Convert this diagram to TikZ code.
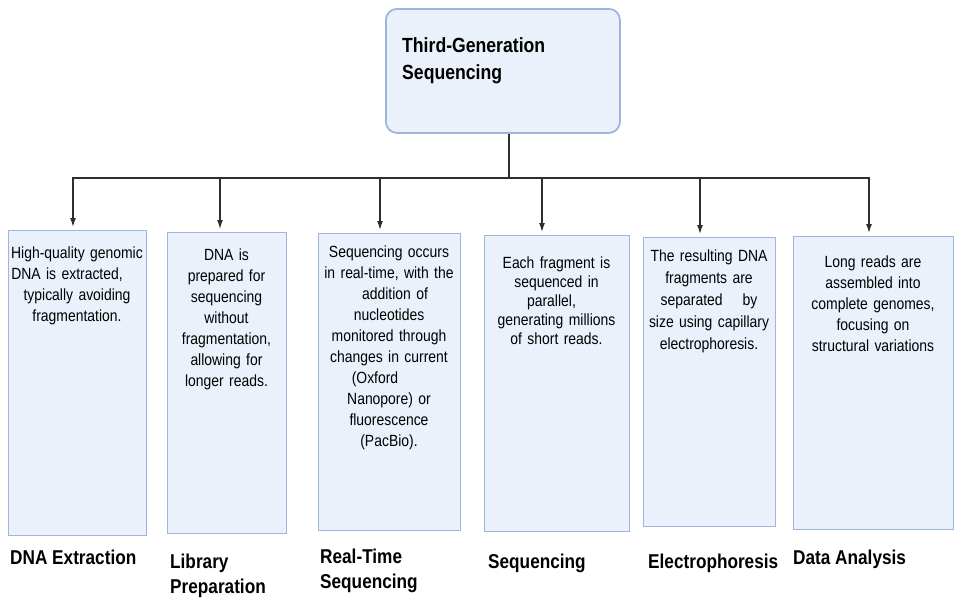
\documentclass[tikz,border=0pt]{standalone}
\usepackage{fontspec}
\setmainfont{Liberation Sans}[FakeStretch=0.86]
\usetikzlibrary{arrows.meta}
\definecolor{boxfill}{HTML}{EBF1FB}
\definecolor{boxline}{HTML}{9DB5DF}
\definecolor{linecol}{HTML}{2E2E2E}
\begin{document}
\begin{tikzpicture}[x=1pt,y=-1pt,
  stepbox/.style={draw=boxline, fill=boxfill, line width=1.3pt, inner sep=0pt, anchor=north west},
  topbox/.style={stepbox, line width=1.8pt, rounded corners=11pt},
  boxtext/.style={font=\fontsize{16.2}{21}\selectfont, align=center, anchor=north, inner sep=0pt},
  title/.style={font=\bfseries\fontsize{20.5}{27}\selectfont, align=left, anchor=north west, inner sep=0pt},
  steplabel/.style={font=\bfseries\fontsize{20}{25}\selectfont, align=left, anchor=north west, inner sep=0pt},
  bar/.style={draw=linecol, line width=2.2pt},
  arr/.style={draw=linecol, line width=1.3pt, -{Latex[length=9pt,width=6pt]}, shorten >=3pt}]
\useasboundingbox (0,0) rectangle (956,598);

% top box
\node[topbox, minimum width=234pt, minimum height=124pt] (top) at (385,8) {};
\node[title] (toptext) at (402,37.5) {Third-Generation\\Sequencing};

% step boxes
\node[stepbox, minimum width=138pt, minimum height=305pt] (b1) at (8,230) {};
\node[stepbox, minimum width=119pt, minimum height=301pt] (b2) at (167,232) {};
\node[stepbox, minimum width=142pt, minimum height=297pt] (b3) at (318,233) {};
\node[stepbox, minimum width=145pt, minimum height=296pt] (b4) at (484,235) {};
\node[stepbox, minimum width=132pt, minimum height=289pt] (b5) at (643,237) {};
\node[stepbox, minimum width=160pt, minimum height=293pt] (b6) at (793,236) {};

% box texts
\node[boxtext, text width=142pt] (t1) at (77,247) {High-quality genomic\\\hspace*{-20pt}DNA is extracted,\\typically avoiding\\fragmentation.};
\node[boxtext, text width=119pt] (t2) at (226.5,249) {DNA is\\prepared for\\sequencing\\without\\fragmentation,\\allowing for\\longer reads.};
\node[boxtext, text width=142pt] (t3) at (389,246) {Sequencing occurs\\in real-time, with the\\\hspace*{12pt}addition of\\nucleotides\\monitored through\\changes in current\\\hspace*{-28pt}(Oxford\\Nanopore) or\\fluorescence\\(PacBio).};
\node[boxtext, font=\fontsize{16.2}{19}\selectfont, text width=145pt] (t4) at (556.5,257) {Each fragment is\\sequenced in\\\hspace*{-10pt}parallel,\\generating millions\\of short reads.};
\node[boxtext, font=\fontsize{16.2}{22}\selectfont, text width=136pt] (t5) at (709,250) {The resulting DNA\\fragments are\\separated\hspace{20pt}by\\size using capillary\\electrophoresis.};
\node[boxtext, text width=160pt] (t6) at (873,256) {Long reads are\\assembled into\\complete genomes,\\focusing on\\structural variations};

% labels
\node[steplabel] (l1) at (10,550) {DNA Extraction};
\node[steplabel] (l2) at (170,554) {Library\\Preparation};
\node[steplabel] (l3) at (320,549) {Real-Time\\Sequencing};
\node[steplabel] (l4) at (488,554) {Sequencing};
\node[steplabel] (l5) at (648,554) {Electrophoresis};
\node[steplabel] (l6) at (793,550) {Data Analysis};

% connectors
\coordinate (bj) at (509,178);
\coordinate (bl) at (72,178);
\coordinate (br) at (870,178);
\draw[bar] (bj |- top.south) -- (bj);
\draw[bar] (bl) -- (br);
\coordinate (a1) at (73,178);
\coordinate (a2) at (220,178);
\coordinate (a3) at (380,178);
\coordinate (a4) at (542,178);
\coordinate (a5) at (700,178);
\coordinate (a6) at (869,178);
\draw[arr] (a1) -- (a1 |- b1.north);
\draw[arr] (a2) -- (a2 |- b2.north);
\draw[arr] (a3) -- (a3 |- b3.north);
\draw[arr] (a4) -- (a4 |- b4.north);
\draw[arr] (a5) -- (a5 |- b5.north);
\draw[arr] (a6) -- (a6 |- b6.north);
\end{tikzpicture}
\end{document}
